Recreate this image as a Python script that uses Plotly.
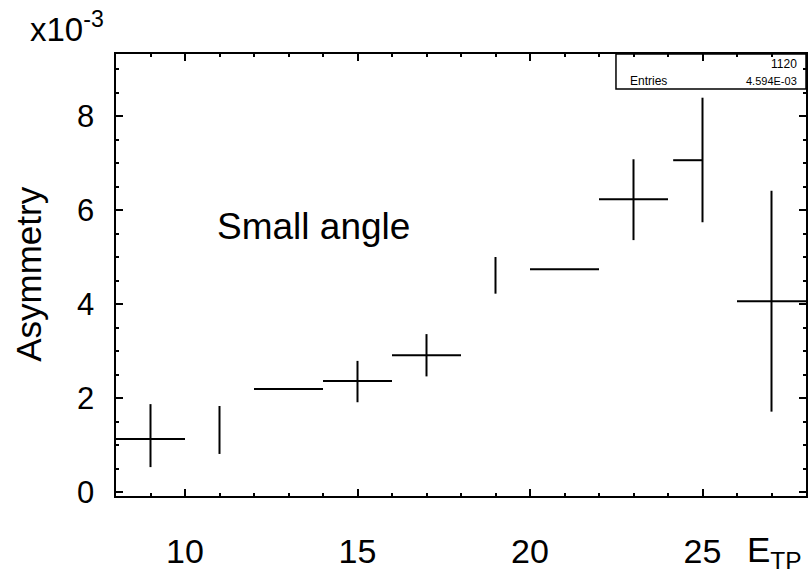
import plotly.graph_objects as go

# Bin centres in E_TP and measured asymmetry (units of 1e-3)
e_tp = [9, 11, 13, 15, 17, 19, 21, 23, 25, 27]
asym = [1.13, 1.32, 2.19, 2.36, 2.91, 4.61, 4.74, 6.23, 7.06, 4.06]

# Horizontal half-widths (bins of width 2); some segments are not drawn
xerr_plus = [1, 0, 1, 1, 1, 0, 1, 1, 0, 1]
xerr_minus = [1, 0, 1, 1, 1, 0, 1, 1, 0.85, 1]

# Statistical errors on the asymmetry
yerr_plus = [0.74, 0.51, 0, 0.43, 0.45, 0.39, 0, 0.85, 1.33, 2.35]
yerr_minus = [0.60, 0.51, 0, 0.45, 0.45, 0.39, 0, 0.87, 1.32, 2.35]

x_ticks = [10, 15, 20, 25]
y_ticks = [0, 2, 4, 6, 8]

FONT = "Liberation Sans, Arial, sans-serif"

fig = go.Figure()
fig.add_trace(go.Scatter(
    x=e_tp, y=asym, mode="markers",
    marker=dict(size=1, color="rgba(0,0,0,0)"),
    error_x=dict(type="data", symmetric=False, array=xerr_plus,
                 arrayminus=xerr_minus, width=0, thickness=2, color="black"),
    error_y=dict(type="data", symmetric=False, array=yerr_plus,
                 arrayminus=yerr_minus, width=0, thickness=2, color="black"),
    showlegend=False, hoverinfo="skip",
))

# y tick labels placed a fixed distance left of the frame
y_labels = [
    dict(text=str(v), xref="paper", yref="y", x=-0.029, y=v,
         xanchor="right", yanchor="middle", showarrow=False,
         font=dict(size=31, family=FONT))
    for v in y_ticks
]

fig.update_layout(
    width=808, height=577,
    margin=dict(l=116, r=2, t=54, b=81),
    paper_bgcolor="white", plot_bgcolor="white",
    font=dict(family=FONT, color="black"),
    xaxis=dict(
        range=[8, 28], tickvals=x_ticks, ticktext=[str(v) for v in x_ticks],
        showgrid=False, zeroline=False, automargin=False,
        showline=True, linecolor="black", linewidth=2, mirror="ticks",
        ticks="inside", ticklen=7, tickwidth=1.5, tickcolor="black",
        minor=dict(dtick=1, ticks="inside", ticklen=3, tickwidth=1.5,
                   tickcolor="black", showgrid=False),
        tickfont=dict(size=34, family=FONT), ticklabelstandoff=24,
    ),
    yaxis=dict(
        range=[-0.085, 9.32], tickvals=y_ticks, showticklabels=False,
        showgrid=False, zeroline=False, automargin=False,
        showline=True, linecolor="black", linewidth=2, mirror="ticks",
        ticks="inside", ticklen=7, tickwidth=1.5, tickcolor="black",
        minor=dict(dtick=0.5, ticks="inside", ticklen=3, tickwidth=1.5,
                   tickcolor="black", showgrid=False),
    ),
    annotations=y_labels + [
        dict(text="Asymmetry", textangle=-90, xref="paper", yref="paper",
             x=-0.128, y=0.502, xanchor="center", yanchor="middle",
             showarrow=False, font=dict(size=35, family=FONT)),
        dict(text="x10<sup>-3</sup>", xref="paper", yref="paper",
             x=-0.127, y=1.01, xanchor="left", yanchor="bottom",
             showarrow=False, font=dict(size=33, family=FONT)),
        dict(text="E<sub>TP</sub>", xref="paper", yref="paper",
             x=0.912, y=-0.072, xanchor="left", yanchor="top",
             showarrow=False, font=dict(size=35, family=FONT)),
        dict(text="Small angle", xref="paper", yref="paper",
             x=0.143, y=0.609, xanchor="left", yanchor="middle",
             showarrow=False, font=dict(size=37, family=FONT)),
        dict(text="Entries", xref="paper", yref="paper",
             x=0.742, y=0.94, xanchor="left", yanchor="middle",
             showarrow=False, font=dict(size=12, family=FONT)),
        dict(text="1120", xref="paper", yref="paper",
             x=0.99, y=0.978, xanchor="right", yanchor="middle",
             showarrow=False, font=dict(size=12, family=FONT)),
        dict(text="4.594E-03", xref="paper", yref="paper",
             x=0.99, y=0.94, xanchor="right", yanchor="middle",
             showarrow=False, font=dict(size=11, family=FONT)),
    ],
    shapes=[
        dict(type="rect", xref="paper", yref="paper",
             x0=0.7246, x1=1.0, y0=0.921, y1=1.0,
             line=dict(color="black", width=1.5), fillcolor="rgba(0,0,0,0)"),
    ],
)

fig.write_html("out.html")
